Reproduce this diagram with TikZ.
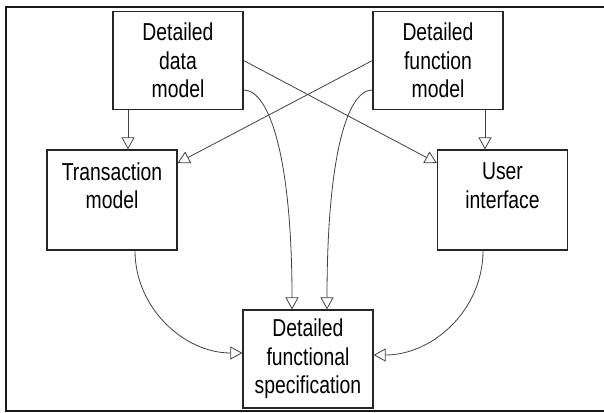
\documentclass[tikz,border=0pt]{standalone}
\usepackage{fontspec}
\setmainfont{Liberation Sans}[FakeStretch=0.79]
\usetikzlibrary{arrows.meta}

\begin{document}
\begin{tikzpicture}[x=1pt, y=1pt]
        \tikzstyle{box}=[draw=black!85, line width=1.2pt, rectangle, minimum width=130pt, minimum height=98pt, align=center, inner sep=0pt, font=\fontsize{24.5}{28.5}\selectfont]
        \tikzstyle{arr}=[draw=black!75, line width=0.8pt, -{Triangle[open, length=12pt, width=13pt]}]

        \useasboundingbox (0,0) rectangle (604,412);
        % frame, open on the right
        \draw[line width=2pt, black!90] (604,405) -- (6,405) -- (6,1.5) -- (604,1.5);

        \path[every edge/.style={arr}]
            node (dd) [box] at (178,351.5) {Detailed\\data\\model}
            node (df) [box] at (438,351.5) {Detailed\\function\\model}
            node (tm) [box, minimum height=100pt] at (112,212) {Transaction\\model\\~}
            node (ui) [box, minimum height=100pt] at (502.5,212) {User\\interface\\~}
            node (fs) [box] at (308,53) {Detailed\\functional\\specification}

            ([xshift=-50pt]dd.south) edge ([xshift=16pt]tm.north)
            ([xshift=47pt]df.south) edge ([xshift=-17.5pt]ui.north)
            (dd.east) edge ([yshift=37pt]ui.west)
            (df.west) edge ([yshift=37pt]tm.east)
            ([yshift=-29.5pt]dd.east) edge [out=0, in=90, out looseness=0.3, in looseness=1.7] ([xshift=-16pt]fs.north)
            ([yshift=-29.5pt]df.west) edge [out=180, in=90, out looseness=0.3, in looseness=1.7] ([xshift=19pt]fs.north)
            ([xshift=23pt]tm.south) edge [out=-90, in=180] ([yshift=6pt]fs.west)
            ([xshift=-19.5pt]ui.south) edge [out=-90, in=0] ([yshift=4pt]fs.east)
        ;

    \end{tikzpicture}
\end{document}
